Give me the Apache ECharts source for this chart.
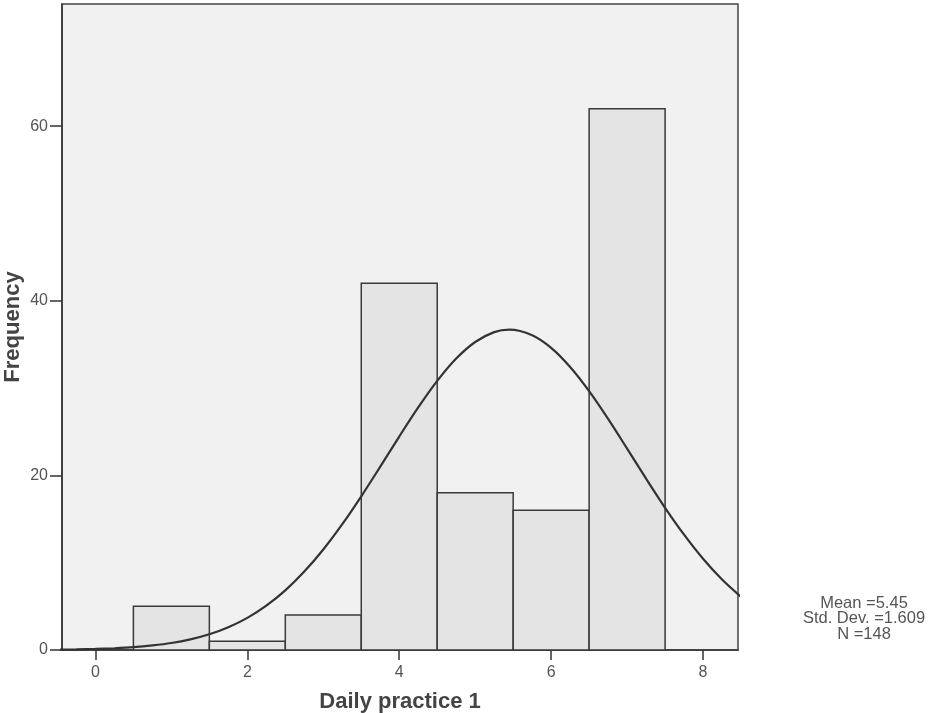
<!DOCTYPE html>
<html>
<head>
<meta charset="utf-8">
<script src="https://cdn.jsdelivr.net/npm/echarts@6/dist/echarts.min.js"></script>
<style>
  html, body { margin: 0; padding: 0; background: #fff; }
  #chart { width: 928px; height: 713px; }
</style>
</head>
<body>
<div id="chart"></div>
<script>
// histogram bins (bin centre, width 1)
const binCenters = [1, 2, 3, 4, 5, 6, 7];
const frequencies = [5, 1, 4, 42, 18, 16, 62];

// normal curve
const curveX = [-0.5, -0.25, 0, 0.25, 0.5, 0.75, 1, 1.25, 1.5, 1.75, 2, 2.25, 2.5, 2.75, 3, 3.25, 3.5, 3.75, 4, 4.25, 4.5, 4.75, 5, 5.25, 5.45, 5.75, 6, 6.25, 6.5, 6.75, 7, 7.25, 7.5, 7.75, 8, 8.25, 8.5];
const curveY = [0.04, 0.07, 0.12, 0.2, 0.32, 0.52, 0.8, 1.22, 1.8, 2.61, 3.68, 5.08, 6.83, 8.98, 11.51, 14.41, 17.61, 21.0, 24.45, 27.78, 30.82, 33.38, 35.28, 36.41, 36.69, 36.06, 34.61, 32.42, 29.65, 26.47, 23.07, 19.63, 16.29, 13.21, 10.45, 8.07, 6.08];

const xTicks = [0, 2, 4, 6, 8];
const statsLines = ['Mean =5.45', 'Std. Dev. =1.609', 'N =148'];

const chart = echarts.init(document.getElementById('chart'));

const axisColor = '#333';
const labelColor = '#555';
const font = 'Liberation Sans';

chart.setOption({
  animation: false,
  grid: {
    left: 62,
    top: 4,
    right: 190,
    bottom: 63,
    outerBoundsMode: 'none',
    containLabel: false,
    show: true,
    backgroundColor: '#f1f1f1',
    borderColor: '#444',
    borderWidth: 1.5,
  },
  xAxis: {
    type: 'value',
    min: -0.44,
    max: 8.46,
    name: 'Daily practice 1',
    nameLocation: 'middle',
    nameGap: 41,
    nameMoveOverlap: false,
    nameTextStyle: { fontFamily: font, fontWeight: 'bold', fontSize: 22, color: '#444' },
    axisLine: { show: true, onZero: false, lineStyle: { color: axisColor, width: 1.5 } },
    axisTick: { show: true, customValues: xTicks, length: 10, lineStyle: { color: axisColor, width: 1.5 } },
    axisLabel: { customValues: xTicks, color: labelColor, fontFamily: font, fontSize: 16, margin: 15 },
    splitLine: { show: false },
  },
  yAxis: {
    type: 'value',
    min: 0,
    max: 74,
    interval: 20,
    name: 'Frequency',
    nameLocation: 'middle',
    nameGap: 38,
    nameMoveOverlap: false,
    nameTextStyle: { fontFamily: font, fontWeight: 'bold', fontSize: 22, color: '#444' },
    axisLine: { show: true, onZero: false, lineStyle: { color: axisColor, width: 1.5 } },
    axisTick: { show: true, length: 12, lineStyle: { color: axisColor, width: 1.5 } },
    axisLabel: { showMaxLabel: false, color: labelColor, fontFamily: font, fontSize: 16, margin: 14 },
    splitLine: { show: false },
  },
  series: [
    {
      type: 'custom',
      data: binCenters.map((c, i) => [c, frequencies[i]]),
      renderItem: (params, api) => {
        const c = api.value(0);
        const f = api.value(1);
        const p0 = api.coord([c - 0.5, f]);
        const p1 = api.coord([c + 0.5, 0]);
        return {
          type: 'rect',
          shape: { x: p0[0], y: p0[1], width: p1[0] - p0[0], height: p1[1] - p0[1] },
          style: { fill: '#e4e4e4', stroke: '#3a3a3a', lineWidth: 1.5 },
        };
      },
      z: 2,
    },
    {
      type: 'line',
      data: curveX.map((x, i) => [x, curveY[i]]),
      smooth: 0.3,
      showSymbol: false,
      clip: true,
      lineStyle: { color: '#333', width: 2.2 },
      z: 3,
    },
  ],
  graphic: statsLines.map((t, i) => ({
    type: 'text',
    x: 864,
    y: 603 + i * 15.5,
    style: {
      text: t,
      fill: '#555',
      font: '16.5px "Liberation Sans"',
      textAlign: 'center',
      textVerticalAlign: 'middle',
    },
  })),
});
</script>
</body>
</html>
